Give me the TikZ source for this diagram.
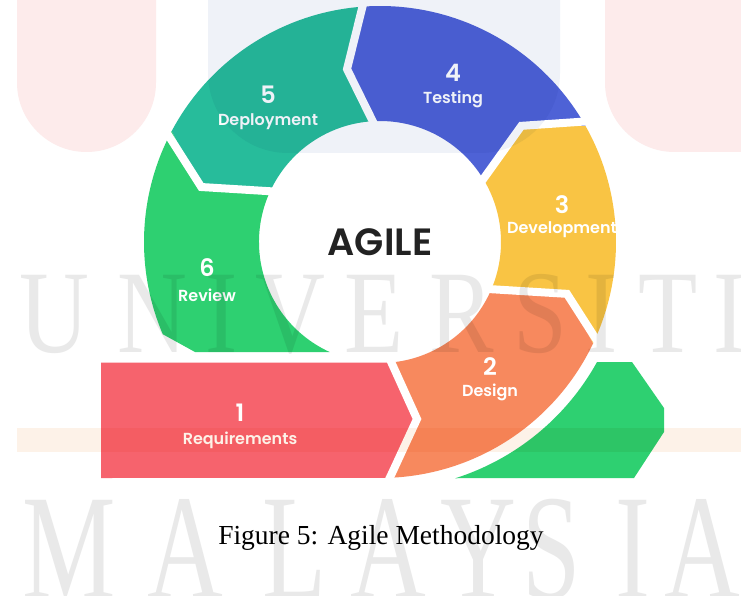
\documentclass[tikz,border=0pt]{standalone}
\usepackage{fontspec}
\setmainfont{Liberation Serif}
\newfontfamily\popfont{Poppins}[BoldFont={Poppins SemiBold}]
\definecolor{reqc}{RGB}{246,99,109}
\definecolor{desc}{RGB}{247,137,94}
\definecolor{devc}{RGB}{249,196,68}
\definecolor{tstc}{RGB}{78,98,214}
\definecolor{depc}{RGB}{39,188,155}
\definecolor{revc}{RGB}{46,208,113}
\definecolor{pinkwm}{RGB}{253,235,235}
\definecolor{bluewm}{RGB}{239,242,248}
\definecolor{orangewm}{RGB}{253,242,232}
\definecolor{graywm}{RGB}{233,233,233}
\definecolor{agilec}{RGB}{34,34,34}
\begin{document}
\begin{tikzpicture}[x=1pt,y=1pt,
  gapline/.style={white,line width=8pt,line join=miter},
  numtxt/.style={text=white,font=\popfont\bfseries\fontsize{24}{24}\selectfont,inner sep=0pt},
  labtxt/.style={text=white,font=\popfont\bfseries\fontsize{16}{16}\selectfont,inner sep=0pt},
  wmu/.style={text=graywm,font=\fontsize{118}{118}\selectfont,inner sep=0pt,anchor=base,xscale=0.82},
  wmm/.style={text=graywm,font=\fontsize{150}{150}\selectfont,inner sep=0pt,anchor=base,xscale=0.7}]
\useasboundingbox (0,0) rectangle (741,595);
\fill[white] (0,0) rectangle (741,595);

\begin{scope}[shift={(380,353)}]
% 3 Development
\fill[devc] (-25.5:236) arc[start angle=-25.5,end angle=29.5,radius=236] -- (39.4:183) -- (29.4:121)
  arc[start angle=29.4,end angle=-24.7,radius=121] -- (-15.5:194) -- cycle;
% 4 Testing
\fill[tstc] (29.5:236) arc[start angle=29.5,end angle=93.5,radius=236] -- (100.8:176) -- (91.5:121)
  arc[start angle=91.5,end angle=29.4,radius=121] -- (39.4:183) -- cycle;
% 5 Deployment
\fill[depc] (93.5:236) arc[start angle=93.5,end angle=152,radius=236] -- (162.9:187) -- (153.4:121)
  arc[start angle=153.4,end angle=91.5,radius=121] -- (100.8:176) -- cycle;
% 6 Review
\fill[revc] (152:236) arc[start angle=152,end angle=203,radius=236] -- (-185,-110) -- (-50.4,-110)
  arc[start angle=245.4,end angle=153.4,radius=121] -- (162.9:187) -- cycle;
% 2 Design
\fill[desc] (-86.2:121) arc[start angle=-86.2,end angle=-24.7,radius=121] -- (-15.5:194) -- (-25.5:236)
  arc[start angle=-25.5,end angle=-88.8,radius=236] -- (37,-177) -- cycle;
% 1 Requirements
\fill[reqc] (-279,-120.7) -- (-86.2:121) -- (37,-177) -- (-88.8:236) -- (-279,-236) -- cycle;
% green tail
\fill[revc] (-72.3:248) arc[start angle=-72.3,end angle=-29.0,radius=248] -- (252,-120) -- (284,-166)
  -- (284,-190) -- (254,-236) -- cycle;
% gaps
\draw[gapline] (-25.6:246) -- (-15.5:194) -- (-24.6:112);
\draw[gapline] (29.5:246) -- (39.4:183) -- (29.4:112);
\draw[gapline] (93.5:246) -- (100.8:176) -- (91.5:112);
\draw[gapline] (152:246) -- (162.9:187) -- (153.4:112);
\draw[gapline] (-86.2:112) -- (37,-177) -- (-88.8:246);
\end{scope}

% labels
\node[numtxt] (n1) at (240,182) {1};
\node[labtxt] (l1) at (240,155) {Requirements};
\node[numtxt] (n2) at (490,228) {2};
\node[labtxt] (l2) at (490,203) {Design};
\node[numtxt] (n3) at (562,390) {3};
\node[labtxt] (l3) at (562,365) {Development};
\node[numtxt] (n4) at (453,522) {4};
\node[labtxt] (l4) at (453,496) {Testing};
\node[numtxt] (n5) at (268,500) {5};
\node[labtxt] (l5) at (268,473) {Deployment};
\node[numtxt] (n6) at (207,327) {6};
\node[labtxt] (l6) at (207,300) {Review};
\node[text=agilec,font=\popfont\bfseries\fontsize{38}{38}\selectfont,inner sep=0pt] (agile) at (380,353) {AGILE};

% caption
\node[font=\fontsize{27.5}{30}\selectfont,inner sep=0pt] (cap) at (381,57) {Figure 5: Agile Methodology};

% watermark overlays (multiplied over the drawing)
\begin{scope}[blend mode=multiply]
\fill[pinkwm] (17,595) -- (17,512.5) arc[start angle=180,end angle=360,radius=69.5] -- (156,595) -- cycle;
\fill[pinkwm] (605,595) -- (605,512.5) arc[start angle=180,end angle=270,radius=69.5] -- (741,443) -- (741,595) -- cycle;
\fill[bluewm] (208,595) -- (208,522) arc[start angle=180,end angle=270,radius=80] -- (480,442) arc[start angle=270,end angle=360,radius=80] -- (560,595) -- cycle;
\fill[orangewm] (17,143) rectangle (741,167);
\node[wmu] (u1) at (54,243) {U};
\node[wmu] (u2) at (152,243) {N};
\node[wmu] (u3) at (222,243) {I};
\node[wmu] (u4) at (290,243) {V};
\node[wmu] (u5) at (374,243) {E};
\node[wmu] (u6) at (462,243) {R};
\node[wmu] (u7) at (540,243) {S};
\node[wmu] (u8) at (602,243) {I};
\node[wmu] (u9) at (668,243) {T};
\node[wmu] (u10) at (730,243) {I};
\node[wmm] (m1) at (69,-3) {M};
\node[wmm] (m2) at (185,-3) {A};
\node[wmm] (m3) at (295,-3) {L};
\node[wmm] (m4) at (388,-3) {A};
\node[wmm] (m5) at (478,-3) {Y};
\node[wmm] (m6) at (552,-3) {S};
\node[wmm] (m7) at (633,-3) {I};
\node[wmm] (m8) at (702,-3) {A};
\end{scope}
\end{tikzpicture}
\end{document}
